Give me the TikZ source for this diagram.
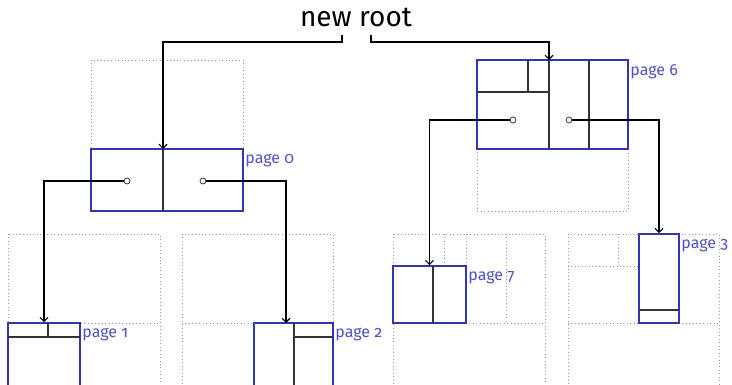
\documentclass[tikz,border=0pt]{standalone}
\usepackage{fontspec}
\setmainfont{Fira Sans}[Numbers=OldStyle]
\usetikzlibrary{arrows.meta,fit,positioning}
\definecolor{pageblue}{HTML}{3535B0}
\definecolor{labelblue}{HTML}{5050C8}
\tikzset{
  page/.style={draw=pageblue, line width=1.3pt, inner sep=0pt},
  quad/.style={draw=gray!80, dotted, line width=0.6pt},
  split/.style={draw=black!80, line width=0.8pt},
  ptr/.style={circle, draw=black!80, fill=white, inner sep=0pt, minimum size=4.5pt, line width=0.6pt},
  link/.style={-{Straight Barb[length=3pt,width=6pt]}, line width=0.8pt},
  pagelabel/.style={text=labelblue, font=\fontsize{12}{14}\selectfont, inner sep=1pt, anchor=north west, yshift=-3pt},
}
\begin{document}
\begin{tikzpicture}[x=0.75pt, y=-0.75pt]
        \useasboundingbox (0,0) rectangle (732,385);
        \clip (0,0) rectangle (732,385);

        % Empty space of the quadtree (dotted)
        \draw[quad] (91,60) rectangle (243,149);
        \draw[quad] (477,149) rectangle (628,211);
        \draw[quad] (8,234) rectangle (160,395);
        \draw[quad] (8,323) -- (160,323);
        \draw[quad] (182,234) rectangle (333,395);
        \draw[quad] (182,323) -- (333,323);
        \draw[quad] (393,234) rectangle (545,395);
        \draw[quad] (393,323) -- (545,323);
        \draw[quad] (444,234) -- (444,266);
        \draw[quad] (466,234) -- (466,266);
        \draw[quad] (506,234) -- (506,323);
        \draw[quad] (568,234) rectangle (719,395);
        \draw[quad] (568,323) -- (719,323);
        \draw[quad] (568,266) -- (639,266);
        \draw[quad] (618,234) -- (618,266);

        % Pages
        \node[page, fit={(91,149) (243,211)}, label={[pagelabel]north east:page 0}] (p0) {};
        \node[page, fit={(477,60) (628,149)}, label={[pagelabel]north east:page 6}] (p6) {};
        \node[page, fit={(8,323) (80,395)}, label={[pagelabel]north east:page 1}] (p1) {};
        \node[page, fit={(254,323) (333,395)}, label={[pagelabel]north east:page 2}] (p2) {};
        \node[page, fit={(393,266) (466,323)}, label={[pagelabel]north east:page 7}] (p7) {};
        \node[page, fit={(639,234) (679,323)}, label={[pagelabel]north east:page 3}] (p3) {};

        % Splits inside the pages
        \draw[split] (163,149) -- (163,211);
        \draw[split] (549,60) -- (549,149);
        \draw[split] (589,60) -- (589,149);
        \draw[split] (477,92) -- (549,92);
        \draw[split] (528,60) -- (528,92);
        \draw[split] (8,337) -- (80,337);
        \draw[split] (48,323) -- (48,337);
        \draw[split] (294,323) -- (294,390);
        \draw[split] (294,337) -- (333,337);
        \draw[split] (433,266) -- (433,323);
        \draw[split] (639,310) -- (679,310);

        % Root and child pointers
        \node[font=\fontsize{21}{25}\selectfont] (root) at (356,17) {new root};
        \coordinate (rootL) at (342,35);
        \coordinate (rootR) at (371,35);
        \coordinate (p0in) at (163,149);
        \coordinate (p6in) at (549,60);
        \coordinate (p2in) at (286,323);
        \node[ptr] (c0a) at (127,181) {};
        \node[ptr] (c0b) at (203,181) {};
        \node[ptr] (c6a) at (513,120) {};
        \node[ptr] (c6b) at (569,120) {};

        \draw[link] (rootL) -- ++(0,7) -| (p0in);
        \draw[link] (rootR) -- ++(0,7) -| (p6in);
        \draw[link] (c0a) -| (p1.north);
        \draw[link] (c0b) -| (p2in);
        \draw[link] (c6a) -| (p7.north);
        \draw[link] (c6b) -| (p3.north);
\end{tikzpicture}
\end{document}
